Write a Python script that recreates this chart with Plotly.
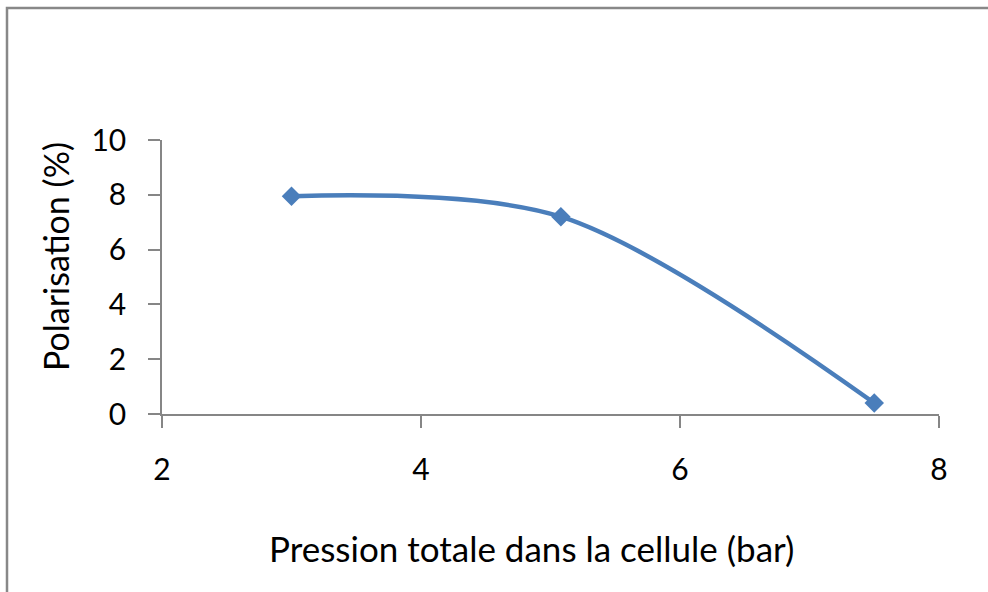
import plotly.graph_objects as go

# Data
pression = [3.0, 5.08, 7.5]
polarisation = [7.95, 7.2, 0.4]
x_ticks = [2, 4, 6, 8]
y_ticks = [0, 2, 4, 6, 8, 10]
x_title = "Pression totale dans la cellule (bar)"
y_title = "Polarisation (%)"

W, H = 988, 592
L, R, T, B = 162, 49, 140, 178
pw, ph = W - L - R, H - T - B

FONT = "Lato, 'Open Sans', sans-serif"
AXIS_COLOR = "#868686"
SERIES_COLOR = "#4A7EBB"

fig = go.Figure()
fig.add_trace(go.Scatter(
    x=pression, y=polarisation,
    mode="lines+markers",
    line=dict(color=SERIES_COLOR, width=4.5, shape="spline", smoothing=0.9),
    marker=dict(symbol="diamond", size=15, color=SERIES_COLOR),
    showlegend=False, cliponaxis=False,
))

def px_x(px):
    return (px - L) / pw

def px_y(py):
    return (H - B - py) / ph

fig.update_layout(
    width=W, height=H,
    margin=dict(l=L, r=R, t=T, b=B, pad=0),
    paper_bgcolor="white", plot_bgcolor="white",
    font=dict(family=FONT, size=30, color="#000000"),
    xaxis=dict(
        range=[2, 8], tickvals=x_ticks, ticktext=[str(v) for v in x_ticks],
        showgrid=False, zeroline=False, showline=True, linecolor=AXIS_COLOR, linewidth=1.5,
        ticks="outside", ticklen=12, tickcolor=AXIS_COLOR, tickwidth=1.5,
        ticklabelstandoff=16, tickfont=dict(family=FONT, size=30, color="#000"),
    ),
    yaxis=dict(
        range=[0, 10], tickvals=y_ticks, ticktext=[str(v) for v in y_ticks],
        showgrid=False, zeroline=False, showline=True, linecolor=AXIS_COLOR, linewidth=1.5,
        ticks="outside", ticklen=12, tickcolor=AXIS_COLOR, tickwidth=1.5,
        ticklabelstandoff=16, tickfont=dict(family=FONT, size=30, color="#000"),
    ),
    shapes=[dict(
        type="rect", xref="paper", yref="paper",
        x0=px_x(7), y0=px_y(700), x1=px_x(1100), y1=px_y(8),
        line=dict(color="#888888", width=2.5), fillcolor="rgba(0,0,0,0)", layer="below",
    )],
    annotations=[
        dict(text=x_title, xref="paper", yref="paper", x=px_x(531), y=px_y(548),
             xanchor="center", yanchor="middle", showarrow=False,
             font=dict(family=FONT, size=35, color="#000")),
        dict(text=y_title, xref="paper", yref="paper", x=px_x(55), y=px_y(257),
             xanchor="center", yanchor="middle", showarrow=False, textangle=-90,
             font=dict(family=FONT, size=34, color="#000")),
    ],
)

fig.write_html(
    "out.html",
    config={"displayModeBar": False},
    post_script="document.body.style.margin='0';document.body.style.overflow='hidden';",
)
